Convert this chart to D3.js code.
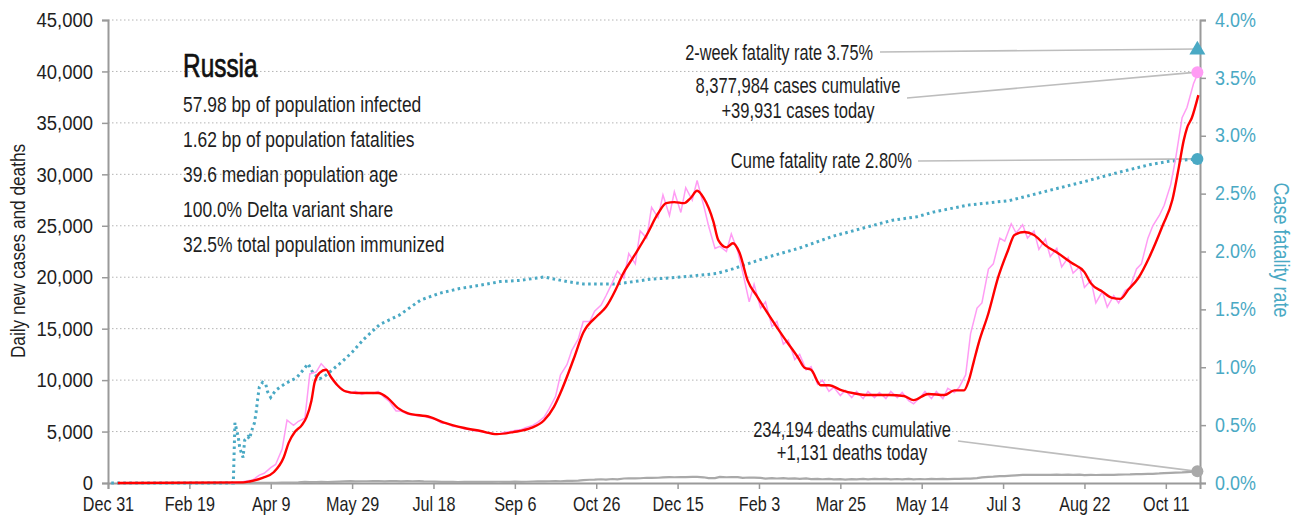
<!DOCTYPE html>
<html>
<head>
<meta charset="utf-8">
<script src="https://cdn.jsdelivr.net/npm/d3@7"></script>
<style>
  html, body { margin: 0; padding: 0; background: #fff; }
  svg { display: block; font-family: "Liberation Sans", Arial, sans-serif; }
</style>
</head>
<body>
<svg id="chart" width="1297" height="522"></svg>
<script>
// ---- Data -------------------------------------------------------------
const tickDates = ["2019-12-31","2020-02-19","2020-04-09","2020-05-29","2020-07-18","2020-09-06",
  "2020-10-26","2020-12-15","2021-02-03","2021-03-25","2021-05-14","2021-07-03","2021-08-22","2021-10-11"];
const leftTicks = [0,5000,10000,15000,20000,25000,30000,35000,40000,45000];
const rightTicks = [0,0.5,1,1.5,2,2.5,3,3.5,4];

// 7-day average of new cases
const avgDates = ["2020-01-06","2020-03-23","2020-03-27","2020-04-04","2020-04-11","2020-04-17","2020-04-20",
  "2020-04-24","2020-04-28","2020-05-01","2020-05-04","2020-05-06","2020-05-09","2020-05-13","2020-05-16",
  "2020-05-20","2020-05-25","2020-06-01","2020-06-14","2020-06-20","2020-06-26","2020-07-02","2020-07-16",
  "2020-07-24","2020-08-06","2020-08-16","2020-08-26","2020-09-05","2020-09-16","2020-09-24","2020-09-30",
  "2020-10-04","2020-10-12","2020-10-18","2020-10-27","2020-11-01","2020-11-07","2020-11-11","2020-11-18",
  "2020-11-26","2020-12-03","2020-12-08","2020-12-13","2020-12-19","2020-12-23","2020-12-27","2020-12-31",
  "2021-01-06","2021-01-09","2021-01-14","2021-01-18","2021-01-22","2021-01-27","2021-02-02","2021-02-10",
  "2021-02-18","2021-02-27","2021-03-03","2021-03-07","2021-03-13","2021-03-18","2021-03-26","2021-04-03",
  "2021-04-11","2021-04-24","2021-05-03","2021-05-09","2021-05-18","2021-05-28","2021-06-03","2021-06-09",
  "2021-06-12","2021-06-15","2021-06-18","2021-06-24","2021-06-30","2021-07-06","2021-07-10","2021-07-16",
  "2021-07-22","2021-07-29","2021-08-06","2021-08-14","2021-08-22","2021-08-26","2021-09-02","2021-09-08",
  "2021-09-13","2021-09-18","2021-09-24","2021-10-01","2021-10-09","2021-10-15","2021-10-19","2021-10-22",
  "2021-10-24","2021-10-27","2021-10-31"];
const avgCases = [0,60,150,500,1070,2500,3900,
  5000,5600,6400,8000,9800,10700,11000,10300,
  9500,8900,8750,8750,8250,7300,6800,6400,
  5900,5350,5050,4750,4950,5350,6100,7400,
  8750,12000,14600,16300,17100,18800,20200,22000,
  24100,26200,27200,27300,27200,27700,28400,27700,
  25400,23600,22900,23300,22400,19700,18100,16100,
  14200,12200,11200,11000,9500,9500,9000,8700,
  8550,8550,8450,8050,8650,8550,9000,9000,
  10000,11800,13600,16500,20000,22600,24100,24400,
  24100,23100,22300,21400,20500,19400,18600,18000,
  17900,18800,19900,22000,25000,27500,30700,33300,
  34500,35500,37700];

// Reported daily values, sampled twice a week (alternating 4- and 3-day steps) from rawStart
const rawStart = "2020-03-15";
const rawCases = [0,60,100,230,300,770,950,1500,1800,3300,
  6100,5600,6000,6300,10600,10800,11600,10900,10000,9300,
  9000,8700,8900,8600,8800,8700,8900,8300,7900,7000,
  7000,6700,6600,6500,6500,6300,6200,5800,5800,5500,
  5500,5250,5200,5050,5000,4850,4800,4750,4900,5000,
  5100,5200,5400,5600,5900,6400,7200,8400,10500,11500,
  12900,14000,15700,15700,16700,17300,18200,19500,20600,19900,
  22300,21300,24500,23800,26800,25800,28000,26000,28300,26300,
  28700,27500,29400,27000,25000,22800,23000,22500,24200,22500,
  20500,17600,19300,17000,17600,15200,15700,13500,13900,12000,
  12500,11000,11300,9600,10000,8900,9300,8500,9000,8300,
  8900,8200,8900,8300,8800,8200,8900,8300,8800,8000,
  7700,8300,8900,8200,8900,8200,9200,8800,9300,10500,
  14500,17000,17500,20800,21300,23800,23500,25200,24300,25100,
  23800,24500,22700,23700,22000,22800,21000,21900,20400,21000,
  19000,19700,17500,18600,17100,18200,17500,18700,19000,20800,
  21300,23800,25000,26000,27000,29000,31500,35500,36500,38800,
  39931];
const dailyDeaths = [0,1,2,4,9,9,11,25,22,36,
  42,51,57,108,98,88,107,96,119,135,
  153,174,162,171,169,181,193,154,176,188,
  154,176,170,179,150,145,140,112,117,113,
  98,106,114,118,117,108,119,121,113,110,
  135,110,120,146,164,165,170,186,169,197,
  198,232,286,317,320,366,327,387,355,439,
  441,456,463,510,491,508,538,568,560,580,
  578,599,591,556,466,475,597,561,578,570,
  507,533,527,494,432,481,437,470,420,446,
  394,441,384,402,367,395,356,376,336,374,
  352,398,360,399,377,392,356,390,349,395,
  361,387,364,398,382,396,372,409,393,423,
  419,477,552,601,619,672,677,726,749,781,
  788,796,787,786,790,808,799,816,790,808,
  767,796,780,787,800,797,820,826,829,861,
  862,887,892,929,968,986,1002,1028,1064,1106,
  1131];

// Cumulative case fatality rate, percent
const cfrDates = ["2020-01-02","2020-03-17","2020-03-18","2020-03-20","2020-03-21","2020-03-23","2020-03-24",
  "2020-03-26","2020-03-27","2020-03-28","2020-03-30","2020-03-31","2020-04-01","2020-04-02","2020-04-04",
  "2020-04-06","2020-04-07","2020-04-09","2020-04-12","2020-04-18","2020-04-25","2020-05-02","2020-05-05",
  "2020-05-09","2020-05-12","2020-05-17","2020-05-23","2020-05-29","2020-06-05","2020-06-15","2020-06-27",
  "2020-07-10","2020-07-22","2020-08-03","2020-08-16","2020-08-28","2020-09-09","2020-09-24","2020-10-08",
  "2020-10-18","2020-11-08","2020-11-28","2020-12-18","2021-01-08","2021-01-18","2021-02-08","2021-02-28",
  "2021-03-20","2021-04-10","2021-04-26","2021-05-11","2021-05-21","2021-06-11","2021-07-07","2021-08-01",
  "2021-08-21","2021-09-11","2021-10-01","2021-10-13","2021-10-31"];
const cfrPct = [0,0,0.52,0.40,0.30,0.22,0.37,
  0.40,0.38,0.44,0.52,0.61,0.73,0.83,0.87,
  0.85,0.79,0.74,0.80,0.86,0.91,1.03,0.95,
  0.90,0.92,0.98,1.05,1.13,1.24,1.37,1.45,
  1.58,1.64,1.68,1.71,1.74,1.75,1.78,1.74,
  1.72,1.72,1.76,1.78,1.81,1.85,1.95,2.03,
  2.13,2.21,2.27,2.30,2.34,2.40,2.44,2.53,
  2.60,2.68,2.75,2.78,2.80];

const country = "Russia";
const facts = ["57.98 bp of population infected","1.62 bp of population fatalities",
  "39.6 median population age","100.0% Delta variant share","32.5% total population immunized"];
const lastDate = "2021-10-31";
const twoWeekCfr = 3.75, cumeCfr = 2.80;
const casesCumulative = 8377984, casesToday = 39931;
const deathsCumulative = 234194, deathsToday = 1131;

// ---- Setup ------------------------------------------------------------
const parse = d3.utcParse("%Y-%m-%d");
const svg = d3.select("#chart");
const TEAL = "#4aa9c4", PINK = "#ff9cf4", RED = "#ff0000", GREY = "#a9a9a9", AXIS = "#9a9a9a", INK = "#1e1e1e";

const x = d3.scaleUtc().domain([parse("2019-12-31"), parse("2021-11-01")]).range([108, 1200]);
const y = d3.scaleLinear().domain([0, 45000]).range([483, 20]);
const yR = d3.scaleLinear().domain([0, 4]).range([483, 20]);

const rawDates = rawCases.map((_, i) => d3.utcDay.offset(parse(rawStart), Math.round(i * 3.5)));

// narrow type: squeeze text horizontally around its anchor point
function narrow(sel, sx) {
  sel.each(function () {
    const t = d3.select(this);
    const tx = +t.attr("x") || 0, ty = +t.attr("y") || 0;
    const extra = t.attr("transform") || "";
    t.attr("x", null).attr("y", null)
      .attr("transform", `${extra} translate(${tx},${ty}) scale(${sx},1)`);
  });
}
function label(xx, yy, txt, size, anchor, sx, fill) {
  return svg.append("text").attr("x", xx).attr("y", yy).attr("text-anchor", anchor)
    .attr("font-size", size).attr("fill", fill || INK).text(txt).call(narrow, sx);
}

// grid
svg.append("g").selectAll("line").data(leftTicks.filter(d => d > 0)).join("line")
  .attr("x1", 108).attr("x2", 1200)
  .attr("y1", d => y(d)).attr("y2", d => y(d))
  .attr("stroke", "#b4b4b4").attr("stroke-width", 1).attr("stroke-dasharray", "1.5,2.5");

// axes
const fmtDate = d3.utcFormat("%b %-d");
const gx = svg.append("g").attr("transform", "translate(0,483)")
  .call(d3.axisBottom(x).tickValues(tickDates.map(parse)).tickFormat(fmtDate).tickSize(6).tickPadding(8));
const gy = svg.append("g").attr("transform", "translate(108,0)")
  .call(d3.axisLeft(y).tickValues(leftTicks).tickFormat(d3.format(",")).tickSize(6).tickPadding(9));
const gr = svg.append("g").attr("transform", "translate(1200,0)")
  .call(d3.axisRight(yR).tickValues(rightTicks).tickFormat(d => d.toFixed(1) + "%").tickSize(6).tickPadding(9));

[gx, gy, gr].forEach(g => {
  g.select(".domain").attr("stroke", AXIS).attr("stroke-width", 2);
  g.selectAll(".tick line").attr("stroke", AXIS).attr("stroke-width", 1.5);
  g.selectAll("text").attr("font-family", null).attr("fill", INK);
});
gx.selectAll("text").attr("font-size", 19.5).call(narrow, 0.83);
gy.selectAll("text").attr("font-size", 21).call(narrow, 0.88);
gr.selectAll("text").attr("font-size", 19.5).attr("fill", TEAL).call(narrow, 0.92);

// axis titles
svg.append("text").attr("transform", "translate(25,251) rotate(-90) scale(0.82,1)")
  .attr("text-anchor", "middle").attr("font-size", 21).attr("fill", INK)
  .text("Daily new cases and deaths");
svg.append("text").attr("transform", "translate(1274,250) rotate(90) scale(0.8,1)")
  .attr("text-anchor", "middle").attr("font-size", 22.5).attr("fill", TEAL)
  .text("Case fatality rate");

// leader lines for the end-point notes
const xe = x(parse(lastDate)) - 1;
const leaders = [
  [880, 52, xe, yR(twoWeekCfr)],
  [907, 98, xe, y(casesToday)],
  [918, 161, xe, yR(cumeCfr)],
  [958, 441, xe, y(deathsToday)]
];
svg.append("g").selectAll("line").data(leaders).join("line")
  .attr("x1", d => d[0]).attr("y1", d => d[1]).attr("x2", d => d[2]).attr("y2", d => d[3])
  .attr("stroke", "#bdbdbd").attr("stroke-width", 1.6);

// series
const cfrLine = d3.line().x((d, i) => x(parse(cfrDates[i]))).y(d => yR(d));
svg.append("path").datum(cfrPct).attr("d", cfrLine)
  .attr("fill", "none").attr("stroke", TEAL).attr("stroke-width", 3)
  .attr("stroke-dasharray", "2.6,3.4");

const deathLine = d3.line().x((d, i) => x(rawDates[i])).y(d => y(d));
svg.append("path").datum(dailyDeaths).attr("d", deathLine)
  .attr("fill", "none").attr("stroke", GREY).attr("stroke-width", 2.2);

const rawLine = d3.line().x((d, i) => x(rawDates[i])).y(d => y(d));
svg.append("path").datum(rawCases).attr("d", rawLine)
  .attr("fill", "none").attr("stroke", PINK).attr("stroke-width", 1.5);

const avgLine = d3.line().curve(d3.curveMonotoneX)
  .x((d, i) => x(parse(avgDates[i]))).y(d => y(d));
svg.append("path").datum(avgCases).attr("d", avgLine)
  .attr("fill", "none").attr("stroke", RED).attr("stroke-width", 2.4);

// end markers
svg.append("path").attr("d", d3.symbol(d3.symbolTriangle, 110)())
  .attr("transform", `translate(${xe},${yR(twoWeekCfr) + 1})`).attr("fill", TEAL);
svg.append("circle").attr("cx", xe).attr("cy", y(casesToday)).attr("r", 6).attr("fill", PINK);
svg.append("circle").attr("cx", xe).attr("cy", yR(cumeCfr)).attr("r", 6).attr("fill", TEAL);
svg.append("circle").attr("cx", xe).attr("cy", y(deathsToday)).attr("r", 6).attr("fill", GREY);

// country fact block
const fmt = d3.format(",");
label(183, 77, country, 33, "start", 0.74, "#111").attr("stroke", "#111").attr("stroke-width", 0.7);
facts.forEach((f, i) => label(183, 112 + i * 35, f, 22.5, "start", 0.775));

// end-point notes
label(873, 60, `2-week fatality rate ${twoWeekCfr.toFixed(2)}%`, 21.5, "end", 0.76);
label(798, 93, `${fmt(casesCumulative)} cases cumulative`, 21.5, "middle", 0.77);
label(798, 118, `+${fmt(casesToday)} cases today`, 21.5, "middle", 0.77);
label(912, 168, `Cume fatality rate ${cumeCfr.toFixed(2)}%`, 21.5, "end", 0.77);
label(852, 437, `${fmt(deathsCumulative)} deaths cumulative`, 21.5, "middle", 0.77);
label(852, 460, `+${fmt(deathsToday)} deaths today`, 21.5, "middle", 0.77);
</script>
</body>
</html>
